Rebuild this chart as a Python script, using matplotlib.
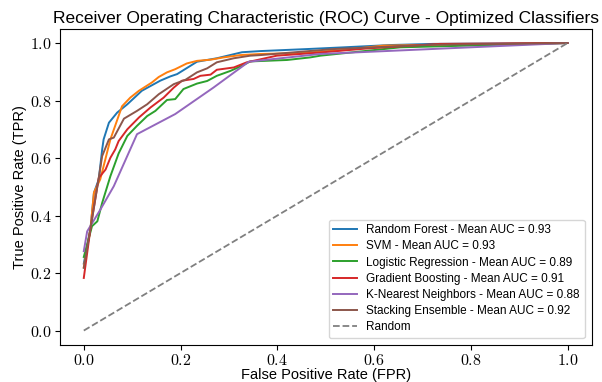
import numpy as np
import matplotlib
matplotlib.use('Agg')
import matplotlib.pyplot as plt
from matplotlib.ticker import FuncFormatter

plt.rcParams['font.family'] = ['Liberation Sans', 'DejaVu Sans']
plt.rcParams['mathtext.fontset'] = 'cm'

# ROC curves (FPR, TPR)
rf_fpr = [0.0, 0.014, 0.021, 0.031, 0.038, 0.041, 0.052, 0.069, 0.09, 0.12, 0.158, 0.179, 0.193, 0.234, 0.275,
          0.327, 0.365, 0.461, 0.537, 0.633, 0.722, 1.0]
rf_tpr = [0.233, 0.357, 0.479, 0.526, 0.63, 0.665, 0.723, 0.758, 0.787, 0.834, 0.869, 0.884, 0.892, 0.935, 0.947,
          0.968, 0.972, 0.979, 0.985, 0.993, 0.997, 1.0]

svm_fpr = [0.0, 0.014, 0.021, 0.034, 0.041, 0.055, 0.079, 0.096, 0.114, 0.141, 0.155, 0.172, 0.189, 0.213, 0.234,
           0.262, 0.289, 0.323, 0.365, 0.447, 0.537, 0.619, 1.0]
svm_tpr = [0.22, 0.357, 0.48, 0.526, 0.572, 0.665, 0.78, 0.81, 0.834, 0.863, 0.882, 0.898, 0.909, 0.929, 0.938,
           0.942, 0.95, 0.958, 0.962, 0.965, 0.976, 0.991, 1.0]

lr_fpr = [0.0, 0.017, 0.028, 0.038, 0.055, 0.072, 0.09, 0.11, 0.131, 0.148, 0.172, 0.189, 0.206, 0.234, 0.255,
          0.275, 0.303, 0.327, 0.344, 0.42, 0.468, 0.489, 0.654, 1.0]
lr_tpr = [0.256, 0.363, 0.38, 0.444, 0.537, 0.616, 0.677, 0.712, 0.746, 0.764, 0.802, 0.805, 0.84, 0.859, 0.868,
          0.886, 0.903, 0.921, 0.936, 0.941, 0.95, 0.956, 0.985, 1.0]

gb_fpr = [0.0, 0.014, 0.028, 0.031, 0.045, 0.055, 0.065, 0.072, 0.09, 0.114, 0.138, 0.165, 0.186, 0.203, 0.227,
          0.241, 0.262, 0.275, 0.31, 0.337, 0.399, 0.489, 0.585, 0.736, 1.0]
gb_tpr = [0.183, 0.357, 0.502, 0.531, 0.56, 0.601, 0.63, 0.659, 0.70, 0.741, 0.776, 0.81, 0.845, 0.869, 0.875,
          0.886, 0.89, 0.907, 0.915, 0.933, 0.956, 0.967, 0.981, 0.997, 1.0]

knn_fpr = [0.0, 0.007, 0.034, 0.062, 0.11, 0.189, 0.268, 0.341, 0.489, 1.0]
knn_tpr = [0.276, 0.345, 0.42, 0.502, 0.683, 0.753, 0.845, 0.935, 0.962, 1.0]

st_fpr = [0.0, 0.014, 0.028, 0.038, 0.052, 0.062, 0.083, 0.11, 0.131, 0.155, 0.186, 0.21, 0.234, 0.255, 0.275,
          0.31, 0.344, 0.365, 0.516, 0.722, 1.0]
st_tpr = [0.218, 0.357, 0.50, 0.607, 0.665, 0.671, 0.737, 0.764, 0.787, 0.822, 0.857, 0.872, 0.898, 0.912, 0.933,
          0.947, 0.956, 0.958, 0.979, 0.994, 1.0]

names = ['Random Forest', 'SVM', 'Logistic Regression', 'Gradient Boosting', 'K-Nearest Neighbors',
         'Stacking Ensemble']
mean_auc = [0.93, 0.93, 0.89, 0.91, 0.88, 0.92]
curves = [(rf_fpr, rf_tpr), (svm_fpr, svm_tpr), (lr_fpr, lr_tpr), (gb_fpr, gb_tpr), (knn_fpr, knn_tpr),
          (st_fpr, st_tpr)]

fig = plt.figure(figsize=(6.02, 3.82), dpi=100)
ax = fig.add_axes([0.099, 0.097, 0.884, 0.828])

for name, auc, (fpr, tpr) in zip(names, mean_auc, curves):
    ax.plot(fpr, tpr, lw=1.4, label=f'{name} - Mean AUC = {auc:.2f}')

ax.plot([0, 1], [0, 1], '--', color='gray', lw=1.3, label='Random')

ax.set_title('Receiver Operating Characteristic (ROC) Curve - Optimized Classifiers', fontsize=12.5, pad=4)
ax.set_xlabel('False Positive Rate (FPR)', fontsize=10.5, labelpad=0)
ax.set_ylabel('True Positive Rate (TPR)', fontsize=10.5, labelpad=2)
fmt = FuncFormatter(lambda v, p: f'${v:.1f}$')
ax.xaxis.set_major_formatter(fmt)
ax.yaxis.set_major_formatter(fmt)
ax.tick_params(labelsize=11.5, pad=2)
ax.legend(loc='lower right', fontsize=8.5, labelspacing=0.35, borderaxespad=0.6)

fig.savefig('out.png', dpi=100)
